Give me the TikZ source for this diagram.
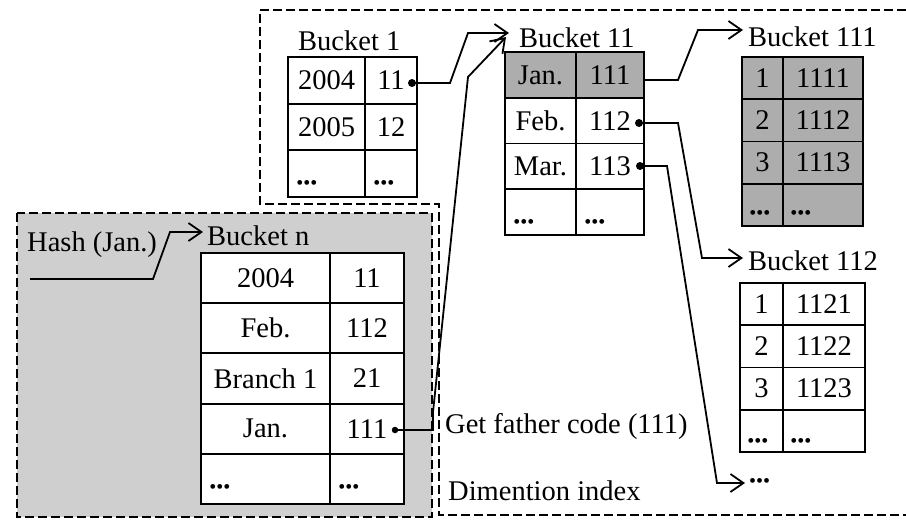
\documentclass[tikz,border=0pt]{standalone}
\usepackage{fontspec}
\setmainfont{Liberation Serif}
\usetikzlibrary{arrows.meta,calc}
\begin{document}
\begin{tikzpicture}[x=1pt,y=-1pt,
  cell/.style={draw, line width=1.9pt, rectangle, inner sep=0pt, font=\fontsize{28.5}{30}\selectfont},
  shaded/.style={fill=black!32},
  lbl/.style={inner sep=0pt, anchor=base west, font=\fontsize{28.5}{30}\selectfont},
  dotsty/.style={inner sep=0pt, anchor=west, font=\fontsize{20}{22}\selectfont},
  pt/.style={circle, fill, inner sep=0pt, minimum size=8pt},
  conn/.style={line width=1.8pt, line join=miter},
  arr/.style={conn, -{Straight Barb[length=13pt,width=18pt,line width=1.8pt]}},
  region/.style={line width=1.8pt, dash pattern=on 9pt off 4pt}
]
\useasboundingbox (0,0) rectangle (906,520);

% regions
\draw[region, fill=black!19] (17,213) rectangle (432,517);
\draw[region] (906,10) -- (260,10) -- (260,204) -- (439,204) -- (439,515) -- (906,515);

% Bucket 1
\node[lbl] (l1) at (298,50) {Bucket 1};
\node[cell, minimum width=77pt, minimum height=46.7pt] (b1-1a) at (326.5,80.3) {2004};
\node[cell, minimum width=52pt, minimum height=46.7pt] (b1-1b) at (391,80.3) {11\hspace{8pt}};
\node[cell, minimum width=77pt, minimum height=46.7pt] (b1-2a) at (326.5,127) {2005};
\node[cell, minimum width=52pt, minimum height=46.7pt] (b1-2b) at (391,127) {12};
\node[cell, minimum width=77pt, minimum height=46.7pt] (b1-3a) at (326.5,173.7) {};
\node[cell, minimum width=52pt, minimum height=46.7pt] (b1-3b) at (391,173.7) {};
\node[dotsty, xshift=9pt, yshift=13pt] (b1-3at) at (b1-3a.south west) {•••};
\node[dotsty, xshift=9pt, yshift=13pt] (b1-3bt) at (b1-3b.south west) {•••};
\node[pt] (dA) at (412,83) {};

% Bucket 11
\node[lbl] (l11) at (519,47) {Bucket 11};
\node[cell, shaded, minimum width=71pt, minimum height=45.75pt] (b11-1a) at (540.5,74.9) {Jan.};
\node[cell, shaded, minimum width=68pt, minimum height=45.75pt] (b11-1b) at (610,74.9) {111};
\node[cell, minimum width=71pt, minimum height=45.75pt] (b11-2a) at (540.5,120.6) {Feb.};
\node[cell, minimum width=68pt, minimum height=45.75pt] (b11-2b) at (610,120.6) {112\hspace{3pt}};
\node[cell, minimum width=71pt, minimum height=45.75pt] (b11-3a) at (540.5,166.4) {Mar.};
\node[cell, minimum width=68pt, minimum height=45.75pt] (b11-3b) at (610,166.4) {113\hspace{3pt}};
\node[cell, minimum width=71pt, minimum height=45.75pt] (b11-4a) at (540.5,212.1) {};
\node[cell, minimum width=68pt, minimum height=45.75pt] (b11-4b) at (610,212.1) {};
\node[dotsty, xshift=9pt, yshift=12pt] (b11-4at) at (b11-4a.south west) {•••};
\node[dotsty, xshift=9pt, yshift=12pt] (b11-4bt) at (b11-4b.south west) {•••};
\node[pt] (dB) at (639,123) {};
\node[pt] (dC) at (640,166) {};

% Bucket 111
\node[lbl] (l111) at (748,46) {Bucket 111};
\node[cell, shaded, minimum width=41pt, minimum height=42.25pt] (b111-1a) at (762.5,78.1) {1};
\node[cell, shaded, minimum width=80pt, minimum height=42.25pt] (b111-1b) at (823,78.1) {1111};
\node[cell, shaded, minimum width=41pt, minimum height=42.25pt] (b111-2a) at (762.5,120.4) {2};
\node[cell, shaded, minimum width=80pt, minimum height=42.25pt] (b111-2b) at (823,120.4) {1112};
\node[cell, shaded, minimum width=41pt, minimum height=42.25pt] (b111-3a) at (762.5,162.6) {3};
\node[cell, shaded, minimum width=80pt, minimum height=42.25pt] (b111-3b) at (823,162.6) {1113};
\node[cell, shaded, minimum width=41pt, minimum height=42.25pt] (b111-4a) at (762.5,204.9) {};
\node[cell, shaded, minimum width=80pt, minimum height=42.25pt] (b111-4b) at (823,204.9) {};
\node[dotsty, xshift=8pt, yshift=12pt] (b111-4at) at (b111-4a.south west) {•••};
\node[dotsty, xshift=8pt, yshift=12pt] (b111-4bt) at (b111-4b.south west) {•••};

% Bucket 112
\node[lbl] (l112) at (748,270) {Bucket 112};
\node[cell, minimum width=43pt, minimum height=42.25pt] (b112-1a) at (761.5,304.1) {1};
\node[cell, minimum width=82pt, minimum height=42.25pt] (b112-1b) at (824,304.1) {1121};
\node[cell, minimum width=43pt, minimum height=42.25pt] (b112-2a) at (761.5,346.4) {2};
\node[cell, minimum width=82pt, minimum height=42.25pt] (b112-2b) at (824,346.4) {1122};
\node[cell, minimum width=43pt, minimum height=42.25pt] (b112-3a) at (761.5,388.6) {3};
\node[cell, minimum width=82pt, minimum height=42.25pt] (b112-3b) at (824,388.6) {1123};
\node[cell, minimum width=43pt, minimum height=42.25pt] (b112-4a) at (761.5,430.9) {};
\node[cell, minimum width=82pt, minimum height=42.25pt] (b112-4b) at (824,430.9) {};
\node[dotsty, xshift=8pt, yshift=10pt] (b112-4at) at (b112-4a.south west) {•••};
\node[dotsty, xshift=8pt, yshift=10pt] (b112-4bt) at (b112-4b.south west) {•••};

% Bucket n
\node[lbl] (ln) at (207,245) {Bucket n};
\node[cell, fill=white, minimum width=129pt, minimum height=50.2pt] (bn-1a) at (265.5,278.1) {2004};
\node[cell, fill=white, minimum width=74pt, minimum height=50.2pt] (bn-1b) at (367,278.1) {11};
\node[cell, fill=white, minimum width=129pt, minimum height=50.2pt] (bn-2a) at (265.5,328.3) {Feb.};
\node[cell, fill=white, minimum width=74pt, minimum height=50.2pt] (bn-2b) at (367,328.3) {112};
\node[cell, fill=white, minimum width=129pt, minimum height=50.2pt] (bn-3a) at (265.5,378.5) {Branch 1};
\node[cell, fill=white, minimum width=74pt, minimum height=50.2pt] (bn-3b) at (367,378.5) {21};
\node[cell, fill=white, minimum width=129pt, minimum height=50.2pt] (bn-4a) at (265.5,428.7) {Jan.};
\node[cell, fill=white, minimum width=74pt, minimum height=50.2pt] (bn-4b) at (367,428.7) {111};
\node[cell, fill=white, minimum width=129pt, minimum height=50.2pt] (bn-5a) at (265.5,478.9) {};
\node[cell, fill=white, minimum width=74pt, minimum height=50.2pt] (bn-5b) at (367,478.9) {};
\node[dotsty, xshift=9pt, yshift=16pt] (bn-5at) at (bn-5a.south west) {•••};
\node[dotsty, xshift=9pt, yshift=16pt] (bn-5bt) at (bn-5b.south west) {•••};
\node[pt, minimum size=6.5pt] (dD) at (395,430) {};

% other texts
\node[lbl] (hash) at (27,251) {Hash (Jan.)};
\node[lbl] (gf) at (445,433) {Get father code (111)};
\node[lbl] (di) at (448,500) {Dimention index};
\node[dotsty] (more) at (749,483) {•••};
\coordinate (hs) at (30,279);

% connectors
\draw[arr] (hs) -- (153,279) -- (170,232) -- ($(ln.base west)+(-4,-13)$);
\draw[arr] (dA.center) -- (450,83) -- (468,33) -- ($(l11.base west)+(-10,-14)$);
\draw[arr] (dD.center) -- (433,430) -- (433,412) -- (468,77) -- ($(l11.base west)+(-13,-10)$);
\draw[arr] ($(b11-1b.east)+(0,5)$) -- (678,80) -- (698,30) -- ($(l111.base west)+(-5,-16)$);
\draw[arr] (dB.center) -- (678,123) -- (702,258) -- ($(l112.base west)+(-5,-12)$);
\draw[arr] (dC.center) -- (667,166) -- (717,483) -- ($(more.west)+(-4,0)$);
\end{tikzpicture}
\end{document}
